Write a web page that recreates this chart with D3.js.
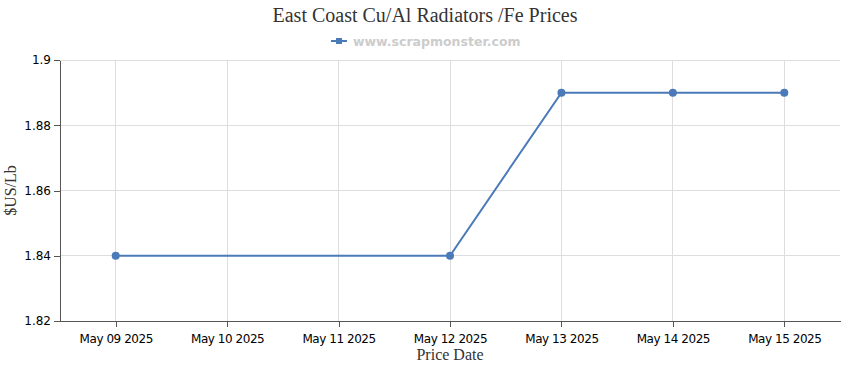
<!DOCTYPE html>
<html><head><meta charset="utf-8">
<script src="https://cdn.jsdelivr.net/npm/d3@7"></script>
<style>body{margin:0;background:#fff}svg{display:block}</style>
</head><body>
<script>
const categories = ["May 09 2025","May 10 2025","May 11 2025","May 12 2025","May 13 2025","May 14 2025","May 15 2025"];
const values = [1.84, null, null, 1.84, 1.89, 1.89, 1.89];
const yTicks = [1.82, 1.84, 1.86, 1.88, 1.9];
const title = "East Coast Cu/Al Radiators /Fe Prices";
const legendLabel = "www.scrapmonster.com";

const W = 850, H = 370;
const m = {l: 60, r: 10, t: 60, b: 49};
const svg = d3.select("body").append("svg").attr("width", W).attr("height", H);
const x = d3.scalePoint().domain(categories).range([m.l, W - m.r]).padding(0.5);
const y = d3.scaleLinear().domain([1.82, 1.9]).range([H - m.b, m.t]);

// grid
svg.append("g").selectAll("line.h").data(yTicks).join("line")
  .attr("x1", m.l).attr("x2", W - m.r).attr("y1", d => y(d)).attr("y2", d => y(d))
  .attr("stroke", "#ddd").attr("stroke-width", 1).attr("shape-rendering","crispEdges");
svg.append("g").selectAll("line.v").data(categories).join("line")
  .attr("x1", d => x(d)).attr("x2", d => x(d)).attr("y1", m.t).attr("y2", H - m.b)
  .attr("stroke", "#ddd").attr("stroke-width", 1).attr("shape-rendering","crispEdges");

const xa = svg.append("g").attr("transform", `translate(0,${H - m.b})`)
  .call(d3.axisBottom(x).tickSize(6).tickSizeOuter(0));
const ya = svg.append("g").attr("transform", `translate(${m.l},0)`)
  .call(d3.axisLeft(y).tickValues(yTicks).tickFormat(d3.format("")).tickSize(6).tickSizeOuter(0));
[xa, ya].forEach(a => {
  a.selectAll("path,line").attr("stroke", "#555").attr("shape-rendering","crispEdges");
  a.selectAll("text").attr("fill", "#000").style("font-family", "Tahoma, 'DejaVu Sans', sans-serif").style("font-size", "12px");
});
xa.selectAll("text").attr("dy", "1.1em").style("letter-spacing", "-0.45px");

// line
const pts = categories.map((c, i) => ({c, v: values[i]})).filter(d => d.v != null);
svg.append("path").datum(pts)
  .attr("d", d3.line().x(d => x(d.c)).y(d => y(d.v)))
  .attr("fill", "none").attr("stroke", "#4a7ab8").attr("stroke-width", 2);
svg.append("g").selectAll("circle").data(pts).join("circle")
  .attr("cx", d => x(d.c)).attr("cy", d => y(d.v)).attr("r", 4).attr("fill", "#4a7ab8");

// title
svg.append("text").attr("x", 425).attr("y", 22).attr("text-anchor", "middle")
  .style("font-family", "'Liberation Serif', 'Times New Roman', serif").style("font-size", "20px").attr("fill", "#333").text(title);
// legend
const lg = svg.append("g");
lg.append("line").attr("x1", 331).attr("x2", 347).attr("y1", 41).attr("y2", 41).attr("stroke", "#4a7ab8").attr("stroke-width", 2);
lg.append("rect").attr("x", 336).attr("y", 38).attr("width", 6).attr("height", 6).attr("fill", "#4a7ab8");
lg.append("text").attr("x", 353).attr("y", 45.5)
  .style("font-family", "Tahoma, 'DejaVu Sans', sans-serif").style("font-size", "12.5px").style("font-weight", "bold")
  .attr("fill", "#ccc").text(legendLabel);

// axis titles
svg.append("text").attr("x", 450).attr("y", 360).attr("text-anchor", "middle")
  .style("font-family", "'Liberation Serif', 'Times New Roman', serif").style("font-size", "16px").attr("fill", "#333").text("Price Date");
svg.append("text").attr("transform", `translate(16,${(m.t + H - m.b)/2}) rotate(-90)`).attr("text-anchor", "middle")
  .style("font-family", "'Liberation Serif', 'Times New Roman', serif").style("font-size", "16px").attr("fill", "#333").text("$US/Lb");
</script>
</body></html>
